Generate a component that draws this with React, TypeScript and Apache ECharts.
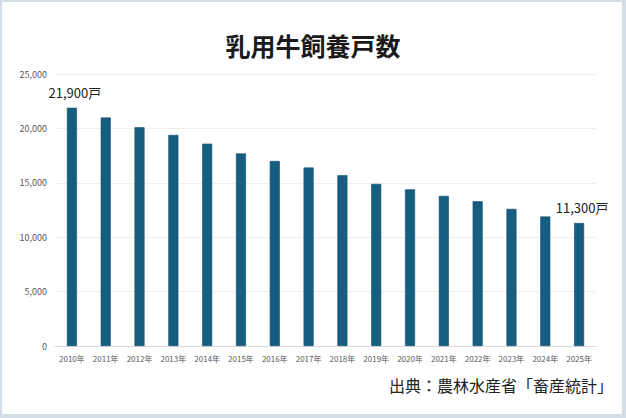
import React, { useEffect, useRef } from "react";
import * as echarts from "echarts";

const years = ["2010年","2011年","2012年","2013年","2014年","2015年","2016年","2017年","2018年","2019年","2020年","2021年","2022年","2023年","2024年","2025年"];
const farms = [21900,21000,20100,19400,18600,17700,17000,16400,15700,14900,14400,13800,13300,12600,11900,11300];
const labeledIdx = [0, 15];
const titleText = "乳用牛飼養戸数";
const sourceText = "出典：農林水産省「畜産統計」";

const FONT = "'Noto Sans CJK JP', 'Noto Sans', sans-serif";

export default function App() {
  const ref = useRef<HTMLDivElement>(null);
  useEffect(() => {
    if (!ref.current) return;
    const chart = echarts.init(ref.current, null, { renderer: "svg" });
    chart.setOption({
      animation: false,
      backgroundColor: "#d3dde5",
      textStyle: { fontFamily: FONT },
      graphic: [
        { type: "rect", z: -10, shape: { x: 2, y: 2, width: 620, height: 412 }, style: { fill: "#ffffff" } },
        { type: "text", right: 13, top: 377, style: { text: sourceText, fontSize: 16, fill: "#222222", fontFamily: FONT } },
      ],
      title: {
        text: titleText,
        left: "center",
        top: 27,
        textStyle: { fontSize: 25, fontWeight: "bold", color: "#1a1a1a", fontFamily: FONT },
      },
      grid: { left: 55, right: 30, top: 74, bottom: 72 },
      xAxis: {
        type: "category",
        data: years,
        axisLine: { lineStyle: { color: "#d9d9d9" } },
        axisTick: { show: false },
        axisLabel: { fontSize: 8, color: "#595959", margin: 8, interval: 0 },
      },
      yAxis: {
        type: "value",
        min: 0,
        max: 25000,
        interval: 5000,
        axisLine: { show: false },
        axisTick: { show: false },
        splitLine: { lineStyle: { color: "#eeeeee" } },
        axisLabel: {
          fontSize: 9,
          color: "#595959",
          margin: 8,
          formatter: (v: number) => v.toLocaleString("en-US"),
        },
      },
      series: [
        {
          type: "bar",
          barWidth: 10,
          data: farms.map((v, i) => ({
            value: v,
            label: labeledIdx.includes(i)
              ? {
                  show: true,
                  position: "top",
                  distance: 9,
                  offset: [3, 0],
                  fontSize: 13,
                  color: "#222222",
                  formatter: (p: any) => p.value.toLocaleString("en-US") + "戸",
                }
              : { show: false },
          })),
          itemStyle: { color: "#165e80", borderColor: "#0f4d6b", borderWidth: 0.6 },
        },
      ],
    });
    return () => chart.dispose();
  }, []);
  return (
    <div
      ref={ref}
      style={{ position: "fixed", left: 0, top: 0, width: 626, height: 418 }}
    />
  );
}
